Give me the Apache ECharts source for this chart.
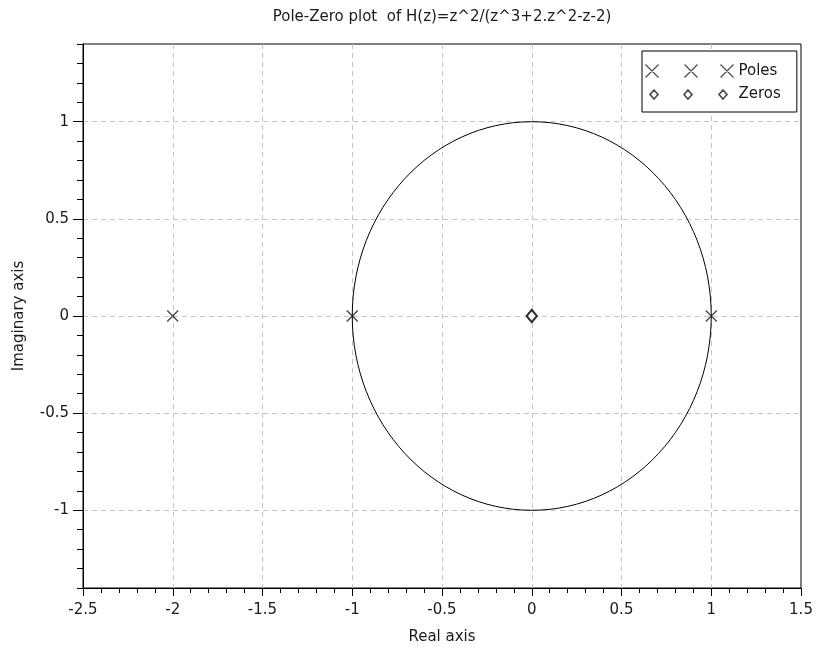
<!DOCTYPE html>
<html>
<head>
<meta charset="utf-8">
<script src="https://cdn.jsdelivr.net/npm/echarts@6/dist/echarts.min.js"></script>
<style>
  html, body { margin: 0; padding: 0; background: #fff; }
  #chart { width: 818px; height: 651px; }
</style>
</head>
<body>
<div id="chart"></div>
<script>
// Transfer function H(z) = z^2 / (z^3 + 2z^2 - z - 2)
const chartTitle = 'Pole-Zero plot  of H(z)=z^2/(z^3+2.z^2-z-2)';
const poles = [[-2, 0], [-1, 0], [1, 0]];
const zeros = [[0, 0], [0, 0]];
// unit circle: centre x, centre y, radius
const unitCircle = [[0, 0, 1]];
const xRange = [-2.5, 1.5];
const yRange = [-1.4, 1.4];
const xStep = 0.5;
const yMinorStep = 0.1;

const FONT = 'DejaVu Sans';
const INK = '#1a1a1a';
const GRID_COLOR = '#c4c4c4';

// legend icons: three crosses / three diamonds side by side
const poleIcon = 'path://M0,0L13,13M13,0L0,13M39,0L52,13M52,0L39,13M75,0L88,13M88,0L75,13';
const zeroIcon = 'path://M0,0M88,13M8.5,2L12.5,6.5L8.5,11L4.5,6.5ZM42.5,2L46.5,6.5L42.5,11L38.5,6.5ZM77.5,2L81.5,6.5L77.5,11L73.5,6.5Z';
const crossSymbol = 'path://M0,0L10,10M10,0L0,10';

const chart = echarts.init(document.getElementById('chart'), null, { renderer: 'canvas' });

const dashed = { color: GRID_COLOR, width: 1, type: [5, 4] };

chart.setOption({
  animation: false,
  backgroundColor: '#fff',
  textStyle: { fontFamily: FONT },
  title: {
    text: chartTitle,
    left: 442,
    top: 10,
    padding: 0,
    textAlign: 'center',
    textStyle: { fontFamily: FONT, fontSize: 15, fontWeight: 'normal', color: INK }
  },
  grid: {
    left: 83, right: 17, top: 44, bottom: 63,
    show: true, borderColor: '#000', borderWidth: 1, backgroundColor: 'transparent'
  },
  legend: {
    orient: 'vertical',
    left: 642,
    top: 51,
    padding: [11, 16, 10, 1],
    itemWidth: 88,
    itemHeight: 13,
    itemGap: 7,
    backgroundColor: '#fff',
    borderColor: '#000',
    borderWidth: 1,
    textStyle: { fontFamily: FONT, fontSize: 15, lineHeight: 15, color: INK },
    data: [
      { name: 'Poles', icon: poleIcon, itemStyle: { color: 'none', borderColor: '#222', borderWidth: 1.3 } },
      { name: 'Zeros', icon: zeroIcon, itemStyle: { color: '#fff', borderColor: '#222', borderWidth: 1.7 } }
    ]
  },
  xAxis: [{
    type: 'value',
    min: xRange[0], max: xRange[1], interval: xStep,
    name: 'Real axis',
    nameLocation: 'middle',
    nameGap: 42,
    nameTextStyle: { fontFamily: FONT, fontSize: 15, color: INK },
    axisLine: { show: true, onZero: false, lineStyle: { color: '#000', width: 1 } },
    axisTick: { show: true, inside: false, length: 8, lineStyle: { color: '#000' } },
    minorTick: { show: true, splitNumber: 5, length: 5, lineStyle: { color: '#000' } },
    axisLabel: { fontFamily: FONT, fontSize: 15, color: INK, margin: 15 },
    splitLine: { show: true, showMinLine: false, showMaxLine: false, lineStyle: dashed },
    minorSplitLine: { show: false }
  }],
  yAxis: [{
    type: 'value',
    position: 'left',
    min: yRange[0], max: yRange[1], splitNumber: 5,
    name: 'Imaginary axis',
    nameLocation: 'middle',
    nameGap: 56,
    nameTextStyle: { fontFamily: FONT, fontSize: 15, color: INK },
    axisLine: { show: true, onZero: false, lineStyle: { color: '#000', width: 1 } },
    axisTick: { show: true, inside: false, length: 10, lineStyle: { color: '#000' } },
    axisLabel: { fontFamily: FONT, fontSize: 15, color: INK, margin: 14, showMinLabel: false, showMaxLabel: false },
    splitLine: { show: true, showMinLine: false, showMaxLine: false, lineStyle: dashed }
  }, {
    // fine ticks every 0.1 on the imaginary axis
    type: 'value',
    position: 'left',
    min: yRange[0], max: yRange[1], interval: yMinorStep,
    axisLine: { show: false, onZero: false },
    axisTick: { show: true, inside: false, length: 6, lineStyle: { color: '#000' } },
    axisLabel: { show: false },
    splitLine: { show: false }
  }],
  series: [{
    name: 'Unit circle',
    type: 'custom',
    xAxisIndex: 0,
    yAxisIndex: 0,
    clip: false,
    silent: true,
    encode: { x: 0, y: 1 },
    data: unitCircle,
    renderItem: function (params, api) {
      const c = api.coord([api.value(0), api.value(1)]);
      const r = api.value(2);
      const rx = api.size([r, 0])[0];
      const ry = api.size([0, r])[1];
      return {
        type: 'ellipse',
        shape: { cx: c[0], cy: c[1], rx: rx, ry: ry },
        style: { fill: 'none', stroke: '#000', lineWidth: 1 }
      };
    },
    z: 2
  }, {
    name: 'Poles',
    type: 'scatter',
    xAxisIndex: 0,
    yAxisIndex: 0,
    data: poles,
    symbol: crossSymbol,
    symbolSize: 11,
    itemStyle: { color: 'none', borderColor: '#1a1a1a', borderWidth: 1.4 },
    z: 3
  }, {
    name: 'Zeros',
    type: 'scatter',
    xAxisIndex: 0,
    yAxisIndex: 0,
    data: zeros,
    symbol: 'diamond',
    symbolSize: [10, 12],
    itemStyle: { color: '#fff', borderColor: '#1a1a1a', borderWidth: 2 },
    z: 4
  }]
});
</script>
</body>
</html>
